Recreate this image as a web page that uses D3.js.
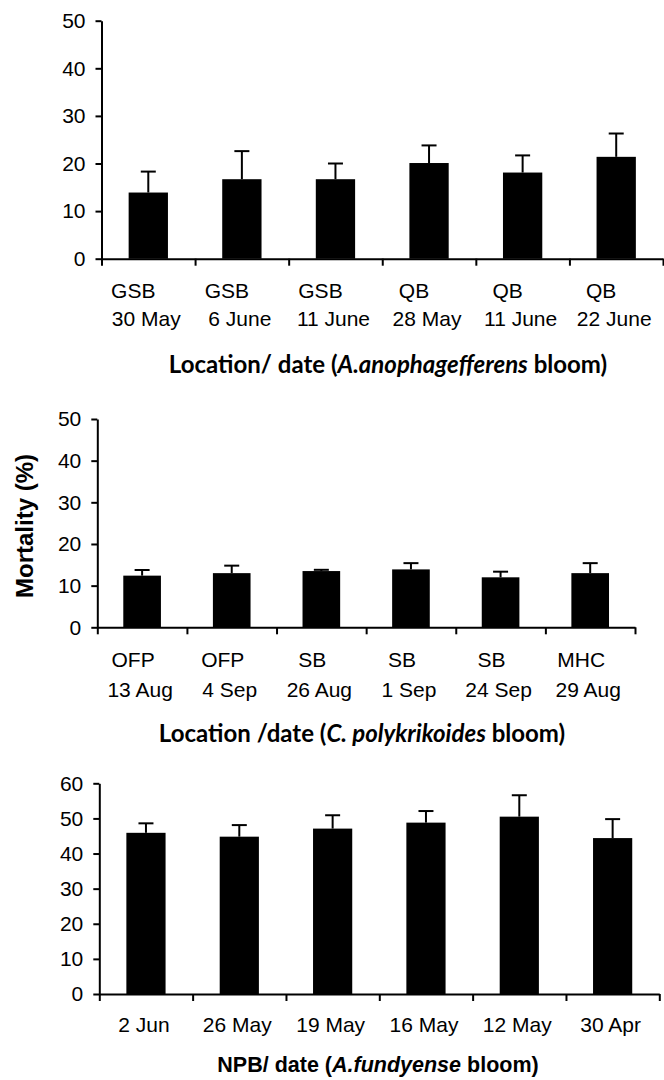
<!doctype html>
<html>
<head>
    <script src="https://cdn.jsdelivr.net/npm/d3@7"></script>
    <style>
        body { margin: 0; background: #fff; }
        svg text { font-family: "Liberation Sans", Arial, sans-serif; fill: #000; }
        .tick text { font-size: 21px; }
        .axis path, .axis line { stroke: #000; stroke-width: 2px; }
        .title { font-family: Lato, "Open Sans", sans-serif; font-weight: bold; font-size: 24px; }
        .title2 { font-family: "Liberation Sans", Arial, sans-serif; font-weight: bold; font-size: 21.5px; }
    </style>
</head>
<body>
<script>
    // A. anophagefferens bloom
    let sitesA = ["GSB", "GSB", "GSB", "QB", "QB", "QB"];
    let datesA = ["30 May", "6 June", "11 June", "28 May", "11 June", "22 June"];
    let mortA = [13.9, 16.7, 16.7, 20.1, 18.1, 21.4];
    let errA = [4.4, 5.9, 3.3, 3.7, 3.6, 4.9];

    // C. polykrikoides bloom
    let sitesC = ["OFP", "OFP", "SB", "SB", "SB", "MHC"];
    let datesC = ["13 Aug", "4 Sep", "26 Aug", "1 Sep", "24 Sep", "29 Aug"];
    let mortC = [12.4, 13.0, 13.5, 13.9, 12.0, 13.0];
    let errC = [1.35, 1.8, 0.3, 1.5, 1.35, 2.4];

    // A. fundyense bloom (NPB)
    let datesF = ["2 Jun", "26 May", "19 May", "16 May", "12 May", "30 Apr"];
    let mortF = [45.9, 44.8, 47.1, 48.8, 50.5, 44.4];
    let errF = [2.7, 3.3, 3.8, 3.3, 6.1, 5.4];

    let ticksA = [0, 10, 20, 30, 40, 50];
    let ticksF = [0, 10, 20, 30, 40, 50, 60];

    let svg = d3.select("body").append("svg")
        .attr("width", 664)
        .attr("height", 1080);

    let panels = [
        {left: 101.5, right: 663, top: 20.7, bottom: 258.7, max: 50, ticks: ticksA,
         line1: sitesA, line2: datesA, mean: mortA, err: errA, dx1: -15, y1: 39, y2: 67},
        {left: 97.3, right: 635, top: 419, bottom: 627.3, max: 50, ticks: ticksA,
         line1: sitesC, line2: datesC, mean: mortC, err: errC, dx1: -9, y1: 40, y2: 70},
        {left: 99.3, right: 659.3, top: 783.3, bottom: 994, max: 60, ticks: ticksF,
         line1: null, line2: datesF, mean: mortF, err: errF, dx1: 0, y1: 0, y2: 38}
    ];

    panels.forEach(p => {
        let n = p.mean.length;
        let x = d3.scaleBand().domain(d3.range(n)).range([p.left, p.right]);
        let xEdge = d3.scaleLinear().domain([0, n]).range([p.left, p.right]);
        let y = d3.scaleLinear().domain([0, p.max]).range([p.bottom, p.top]);
        let g = svg.append("g");

        let bw = x.bandwidth() * 0.42;

        // bars
        g.selectAll(".bar").data(p.mean).enter().append("rect")
            .attr("x", (d, i) => x(i) + (x.bandwidth() - bw) / 2)
            .attr("y", d => y(d))
            .attr("width", bw)
            .attr("height", d => p.bottom - y(d))
            .attr("fill", "#000");

        // error bars (upper only)
        let eb = g.selectAll(".err").data(p.mean).enter().append("g")
            .attr("transform", (d, i) => "translate(" + (x(i) + x.bandwidth() / 2) + ",0)");
        eb.append("line")
            .attr("y1", d => y(d))
            .attr("y2", (d, i) => y(d + p.err[i]))
            .attr("stroke", "#000").attr("stroke-width", 2);
        eb.append("line")
            .attr("x1", -7.5).attr("x2", 7.5)
            .attr("y1", (d, i) => y(d + p.err[i]))
            .attr("y2", (d, i) => y(d + p.err[i]))
            .attr("stroke", "#000").attr("stroke-width", 2);

        // axes
        g.append("g").attr("class", "axis")
            .attr("transform", "translate(" + p.left + ",0)")
            .call(d3.axisLeft(y).tickValues(p.ticks).tickSize(6).tickSizeOuter(0).tickPadding(10));
        g.append("g").attr("class", "axis")
            .attr("transform", "translate(0," + p.bottom + ")")
            .call(d3.axisBottom(xEdge).tickValues(d3.range(n + 1)).tickFormat("").tickSize(7).tickSizeOuter(0));

        // category labels
        let lab = g.selectAll(".lab").data(p.line2).enter().append("g")
            .attr("transform", (d, i) => "translate(" + (x(i) + x.bandwidth() / 2) + "," + p.bottom + ")")
            .style("font-size", "21px")
            .attr("text-anchor", "middle");
        if (p.line1) {
            lab.append("text").attr("x", p.dx1).attr("y", p.y1).text((d, i) => p.line1[i]);
        }
        lab.append("text").attr("x", -2).attr("y", p.y2).text(d => d);
    });

    // axis titles
    let t1 = svg.append("text").attr("class", "title")
        .attr("x", 388).attr("y", 373).attr("text-anchor", "middle");
    t1.append("tspan").text("Location/ date (");
    t1.append("tspan").style("font-style", "italic").text("A.anophagefferens");
    t1.append("tspan").text(" bloom)");

    let t2 = svg.append("text").attr("class", "title")
        .attr("x", 362).attr("y", 742).attr("text-anchor", "middle");
    t2.append("tspan").text("Location /date (");
    t2.append("tspan").style("font-style", "italic").text("C. polykrikoides");
    t2.append("tspan").text("  bloom)");

    let t3 = svg.append("text").attr("class", "title2")
        .attr("x", 378).attr("y", 1072).attr("text-anchor", "middle");
    t3.append("tspan").text("NPB/ date (");
    t3.append("tspan").style("font-style", "italic").text("A.fundyense");
    t3.append("tspan").text(" bloom)");

    svg.append("text")
        .attr("transform", "translate(33,526) rotate(-90)")
        .attr("text-anchor", "middle")
        .style("font-weight", "bold")
        .style("font-size", "24px")
        .text("Mortality (%)");
</script>
</body>
</html>
